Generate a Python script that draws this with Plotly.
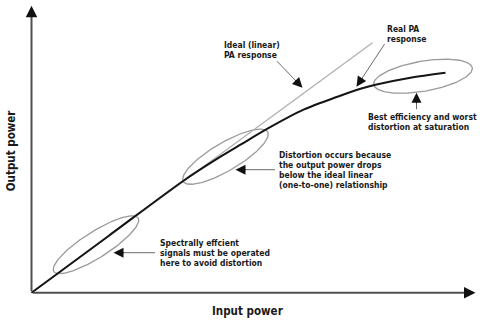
import numpy as np
import plotly.graph_objects as go

# Amplifier transfer curves (arbitrary units, origin at the axis corner)
ideal_in = [0, 341]
ideal_out = [0, 250]

real_in = [0, 76, 152, 189, 209, 236, 272, 306, 329, 344, 379, 414]
real_out = [0, 56, 112, 136, 148, 164, 183, 196, 204, 208, 215, 220]

# Highlighted regions: centre x, centre y, semi-major, semi-minor, tilt (deg)
regions = [
    (64.5, 48, 50, 13, 32.4),
    (194, 136, 49, 14, 30.5),
    (391.5, 216.5, 50, 15, 9.7),
]

# Callouts: text lines, text anchor, arrow tail, arrow tip
callouts = [
    (["Ideal (linear)", "PA response"], (190, 248), (244, 233), (271, 205)),
    (["Real PA", "response"], (353, 264), (354, 250), (325, 206)),
    (["Best efficiency and worst", "distortion at saturation"], (334, 176), (385, 182), (385, 200)),
    (["Distortion occurs because", "the output power drops",
      "below the ideal linear", "(one-to-one) relationship"], (245, 138), (245, 123), (204, 123)),
    (["Spectrally effcient", "signals must be operated",
      "here to avoid distortion"], (126, 50), (125, 40), (82, 40)),
]

x_label = "Input power"
y_label = "Output power"

FONT = "DejaVu Sans Condensed, Liberation Sans Narrow, Arial Narrow, sans-serif"
LINE_GAP = 10

fig = go.Figure()

# highlight ellipses
t = np.linspace(0, 2 * np.pi, 200)
for cx, cy, a, b, ang in regions:
    th = np.radians(ang)
    ex = cx + a * np.cos(t) * np.cos(th) - b * np.sin(t) * np.sin(th)
    ey = cy + a * np.cos(t) * np.sin(th) + b * np.sin(t) * np.cos(th)
    fig.add_trace(go.Scatter(x=ex, y=ey, mode="lines",
                             line=dict(color="#9a9a9a", width=1.3),
                             hoverinfo="skip", showlegend=False))

fig.add_trace(go.Scatter(x=ideal_in, y=ideal_out, mode="lines",
                         line=dict(color="#b0b0b0", width=1.3),
                         showlegend=False))
fig.add_trace(go.Scatter(x=real_in, y=real_out, mode="lines",
                         line=dict(color="#151515", width=2, shape="spline", smoothing=0.8),
                         showlegend=False))

annotations = []


def arrow(tail, tip, shaft_color, width, head_scale):
    # gray shaft
    annotations.append(dict(x=tip[0], y=tip[1], ax=tail[0], ay=tail[1],
                            xref="x", yref="y", axref="x", ayref="y",
                            text="", showarrow=True, arrowhead=0,
                            arrowwidth=width, arrowcolor=shaft_color, standoff=5))
    # black head on a short dark stub
    dx, dy = tip[0] - tail[0], tip[1] - tail[1]
    n = np.hypot(dx, dy)
    hx, hy = tip[0] - dx / n * 12, tip[1] - dy / n * 12
    annotations.append(dict(x=tip[0], y=tip[1], ax=hx, ay=hy,
                            xref="x", yref="y", axref="x", ayref="y",
                            text="", showarrow=True, arrowhead=2,
                            arrowwidth=1, arrowsize=head_scale,
                            arrowcolor="#111111", standoff=0))


for lines, (tx, ty), tail, tip in callouts:
    for i, line in enumerate(lines):
        annotations.append(dict(x=tx, y=ty - i * LINE_GAP, xref="x", yref="y",
                                text="<b>" + line + "</b>", showarrow=False,
                                xanchor="left", yanchor="middle",
                                font=dict(family=FONT, size=8.5, color="#1a1a1a")))
    arrow(tail, tip, "#6a6a6a", 1, 2.0)

# axes drawn as arrows from the origin
arrow((0, 0), (444, 0), "#505050", 2, 2.3)
arrow((0, 0), (0, 287), "#505050", 2, 2.3)

annotations.append(dict(x=216, y=-18, xref="x", yref="y", text="<b>" + x_label + "</b>",
                        showarrow=False, xanchor="center", yanchor="middle",
                        font=dict(family=FONT, size=11.5, color="#1a1a1a")))
annotations.append(dict(x=-21, y=142, xref="x", yref="y", text="<b>" + y_label + "</b>",
                        showarrow=False, xanchor="center", yanchor="middle", textangle=-90,
                        font=dict(family=FONT, size=11.5, color="#1a1a1a")))

fig.update_layout(
    width=480, height=322,
    margin=dict(l=0, r=0, t=0, b=0),
    paper_bgcolor="white", plot_bgcolor="white",
    xaxis=dict(range=[-31.5, 448.5], visible=False, fixedrange=True),
    yaxis=dict(range=[-29.3, 292.7], visible=False, fixedrange=True),
    annotations=annotations,
    showlegend=False,
)

fig.write_html("out.html")
